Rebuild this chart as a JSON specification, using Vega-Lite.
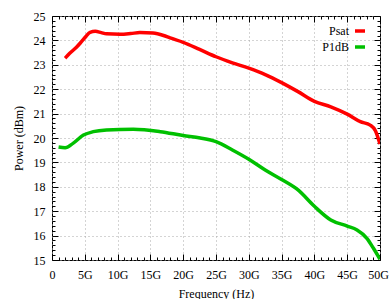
{
  "$schema": "https://vega.github.io/schema/vega-lite/v6.json",
  "width": 328,
  "height": 244,
  "autosize": {"type": "none"},
  "padding": {"left": 52, "top": 16, "right": 9, "bottom": 39},
  "background": "white",
  "config": {
    "font": "Liberation Serif",
    "view": {"stroke": "black", "strokeWidth": 1},
    "legend": {"labelFont": "Liberation Serif", "titleFont": "Liberation Serif"},
    "axis": {"labelFont": "Liberation Serif", "titleFont": "Liberation Serif", "labelFontSize": 12, "titleFontSize": 12, "titleFontWeight": "normal", "labelColor": "black", "titleColor": "black", "domain": false, "tickColor": "black", "gridColor": "#a8a8a8", "gridDash": [1, 3], "gridWidth": 1}
  },
  "data": {"values": [
    {"f": 2, "p": 23.27, "s": "Psat"},
    {"f": 2.7, "p": 23.47, "s": "Psat"},
    {"f": 3.8, "p": 23.74, "s": "Psat"},
    {"f": 4.5, "p": 23.95, "s": "Psat"},
    {"f": 5.2, "p": 24.17, "s": "Psat"},
    {"f": 5.8, "p": 24.33, "s": "Psat"},
    {"f": 6.6, "p": 24.37, "s": "Psat"},
    {"f": 7.5, "p": 24.32, "s": "Psat"},
    {"f": 8.3, "p": 24.27, "s": "Psat"},
    {"f": 10.4, "p": 24.25, "s": "Psat"},
    {"f": 12, "p": 24.28, "s": "Psat"},
    {"f": 13.4, "p": 24.32, "s": "Psat"},
    {"f": 15.4, "p": 24.3, "s": "Psat"},
    {"f": 17, "p": 24.2, "s": "Psat"},
    {"f": 18, "p": 24.1, "s": "Psat"},
    {"f": 20, "p": 23.92, "s": "Psat"},
    {"f": 22.5, "p": 23.63, "s": "Psat"},
    {"f": 25, "p": 23.33, "s": "Psat"},
    {"f": 27.5, "p": 23.08, "s": "Psat"},
    {"f": 30, "p": 22.86, "s": "Psat"},
    {"f": 32.5, "p": 22.6, "s": "Psat"},
    {"f": 35, "p": 22.27, "s": "Psat"},
    {"f": 37.5, "p": 21.9, "s": "Psat"},
    {"f": 40, "p": 21.5, "s": "Psat"},
    {"f": 42.5, "p": 21.28, "s": "Psat"},
    {"f": 45, "p": 20.98, "s": "Psat"},
    {"f": 47, "p": 20.67, "s": "Psat"},
    {"f": 48.5, "p": 20.53, "s": "Psat"},
    {"f": 49.3, "p": 20.3, "s": "Psat"},
    {"f": 50, "p": 19.75, "s": "Psat"},
    {"f": 1, "p": 19.63, "s": "P1dB"},
    {"f": 2, "p": 19.6, "s": "P1dB"},
    {"f": 3.2, "p": 19.78, "s": "P1dB"},
    {"f": 4.8, "p": 20.12, "s": "P1dB"},
    {"f": 6.3, "p": 20.26, "s": "P1dB"},
    {"f": 8.3, "p": 20.33, "s": "P1dB"},
    {"f": 12.4, "p": 20.36, "s": "P1dB"},
    {"f": 16.5, "p": 20.26, "s": "P1dB"},
    {"f": 20, "p": 20.1, "s": "P1dB"},
    {"f": 22.6, "p": 20.0, "s": "P1dB"},
    {"f": 25, "p": 19.85, "s": "P1dB"},
    {"f": 27.5, "p": 19.51, "s": "P1dB"},
    {"f": 30, "p": 19.13, "s": "P1dB"},
    {"f": 32.5, "p": 18.69, "s": "P1dB"},
    {"f": 35, "p": 18.3, "s": "P1dB"},
    {"f": 37.5, "p": 17.87, "s": "P1dB"},
    {"f": 40, "p": 17.2, "s": "P1dB"},
    {"f": 42.5, "p": 16.64, "s": "P1dB"},
    {"f": 45, "p": 16.39, "s": "P1dB"},
    {"f": 46.5, "p": 16.23, "s": "P1dB"},
    {"f": 48, "p": 15.89, "s": "P1dB"},
    {"f": 49, "p": 15.48, "s": "P1dB"},
    {"f": 50, "p": 15.03, "s": "P1dB"}
  ]},
  "resolve": {"axis": {"x": "independent", "y": "independent"}},
  "layer": [
    {
      "mark": {"type": "line", "strokeWidth": 3.5, "interpolate": "monotone", "clip": true},
      "encoding": {
        "x": {"field": "f", "type": "quantitative", "scale": {"domain": [0, 50], "nice": false},
          "axis": {"orient": "bottom", "title": "Frequency (Hz)", "titlePadding": 5,
            "labelFont": "Liberation Serif", "titleFont": "Liberation Serif",
            "values": [0,1,2,3,4,5,6,7,8,9,10,11,12,13,14,15,16,17,18,19,20,21,22,23,24,25,26,27,28,29,30,31,32,33,34,35,36,37,38,39,40,41,42,43,44,45,46,47,48,49,50],
            "labelExpr": "datum.value % 5 === 0 ? (datum.value === 0 ? '0' : datum.value + 'G') : ''",
            "labelOffset": {"condition": {"test": "datum.value === 50", "value": -2}, "value": 0},
            "tickSize": {"condition": {"test": "datum.value % 5 === 0", "value": -6}, "value": -3},
            "gridOpacity": {"condition": {"test": "datum.value % 5 === 0", "value": 1}, "value": 0},
            "labelPadding": 15, "labelFlush": false, "labelOverlap": false}},
        "y": {"field": "p", "type": "quantitative", "scale": {"domain": [15, 25], "nice": false, "zero": false},
          "axis": {"orient": "left", "title": "Power (dBm)", "titlePadding": 8,
            "labelFont": "Liberation Serif", "titleFont": "Liberation Serif",
            "values": [15,15.2,15.4,15.6,15.8,16,16.2,16.4,16.6,16.8,17,17.2,17.4,17.6,17.8,18,18.2,18.4,18.6,18.8,19,19.2,19.4,19.6,19.8,20,20.2,20.4,20.6,20.8,21,21.2,21.4,21.6,21.8,22,22.2,22.4,22.6,22.8,23,23.2,23.4,23.6,23.8,24,24.2,24.4,24.6,24.8,25],
            "labelExpr": "abs(datum.value - round(datum.value)) < 0.01 ? format(datum.value, 'd') : ''",
            "tickSize": {"condition": {"test": "abs(datum.value - round(datum.value)) < 0.01", "value": -6}, "value": -3},
            "gridOpacity": {"condition": {"test": "abs(datum.value - round(datum.value)) < 0.01", "value": 1}, "value": 0},
            "labelPadding": 13, "labelFlush": false, "labelOverlap": false}},
        "color": {"field": "s", "type": "nominal", "sort": ["Psat", "P1dB"],
          "scale": {"domain": ["Psat", "P1dB"], "range": ["#ff0000", "#00c000"]},
          "legend": {"title": null, "orient": "top-right", "offset": 8, "symbolType": "stroke", "symbolStrokeWidth": 3.5, "symbolSize": 100, "labelAlign": "right", "labelOffset": -18, "labelFontSize": 12, "labelFont": "Liberation Serif", "labelColor": "black", "rowPadding": 2}}
      }
    },
    {
      "mark": {"type": "line", "opacity": 0},
      "encoding": {
        "x": {"field": "f", "type": "quantitative", "scale": {"domain": [0, 50], "nice": false},
          "axis": {"orient": "top", "title": null, "grid": false, "labels": false,
            "values": [0,1,2,3,4,5,6,7,8,9,10,11,12,13,14,15,16,17,18,19,20,21,22,23,24,25,26,27,28,29,30,31,32,33,34,35,36,37,38,39,40,41,42,43,44,45,46,47,48,49,50],
            "tickSize": {"condition": {"test": "datum.value % 5 === 0", "value": -6}, "value": -3}}},
        "y": {"field": "p", "type": "quantitative", "scale": {"domain": [15, 25], "nice": false, "zero": false},
          "axis": {"orient": "right", "title": null, "grid": false, "labels": false,
            "values": [15,15.2,15.4,15.6,15.8,16,16.2,16.4,16.6,16.8,17,17.2,17.4,17.6,17.8,18,18.2,18.4,18.6,18.8,19,19.2,19.4,19.6,19.8,20,20.2,20.4,20.6,20.8,21,21.2,21.4,21.6,21.8,22,22.2,22.4,22.6,22.8,23,23.2,23.4,23.6,23.8,24,24.2,24.4,24.6,24.8,25],
            "tickSize": {"condition": {"test": "abs(datum.value - round(datum.value)) < 0.01", "value": -6}, "value": -3}}},
        "detail": {"field": "s", "type": "nominal"}
      }
    }
  ]
}
